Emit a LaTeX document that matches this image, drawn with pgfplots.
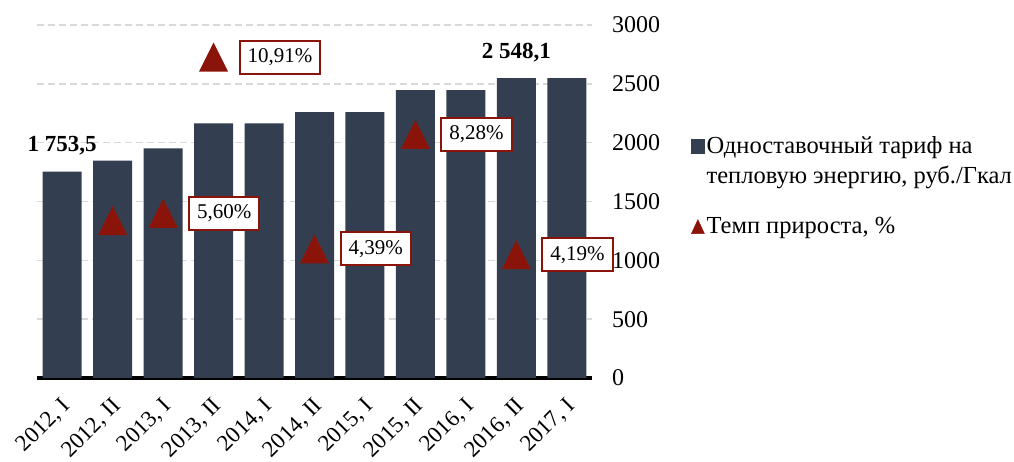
\documentclass[border=0pt]{standalone}
\usepackage{pgfplots}
\pgfplotsset{compat=1.18}
\usepackage{fontspec}
\setmainfont{Liberation Serif}
\definecolor{barcol}{RGB}{51,63,80}
\definecolor{trired}{RGB}{139,20,10}
\definecolor{gridcol}{RGB}{217,217,217}
\pgfdeclareplotmark{tri}{%
  \pgfpathmoveto{\pgfqpoint{0pt}{14.5pt}}%
  \pgfpathlineto{\pgfqpoint{-14.5pt}{-14.5pt}}%
  \pgfpathlineto{\pgfqpoint{14.5pt}{-14.5pt}}%
  \pgfpathclose\pgfusepathqfill}
\begin{document}
\begin{tikzpicture}
\useasboundingbox (0,0) rectangle (1014pt,462pt);
\begin{axis}[
  at={(37pt,84pt)}, anchor=south west,
  scale only axis, width=555pt, height=353pt,
  xmin=-0.5, xmax=10.5, ymin=0, ymax=3000,
  axis x line*=bottom, axis y line*=right,
  y axis line style={draw=none},
  x axis line style={line width=4pt, -},
  xtick={0,...,10},
  xticklabels={{2012, I},{2012, II},{2013, I},{2013, II},{2014, I},{2014, II},{2015, I},{2015, II},{2016, I},{2016, II},{2017, I}},
  xticklabel style={yshift=-15pt, xshift=-2pt, rotate=45, anchor=north east, inner sep=2pt, font=\fontsize{23}{26}\selectfont},
  ytick={0,500,...,3000},
  yticklabel style={font=\fontsize{24}{28}\selectfont, /pgf/number format/assume math mode=true, /pgf/number format/1000 sep={}, anchor=west, inner sep=0pt, xshift=20pt},
  major tick length=0pt,
  ymajorgrids, grid style={gridcol, line width=1.5pt, dash pattern=on 7pt off 4pt},
  clip=false,
]
\addplot[ybar, bar width=39pt, bar shift=0pt, fill=barcol, draw=none]
coordinates {(0,1753.5) (1,1847.3) (2,1950.8) (3,2163.6) (4,2163.6) (5,2258.6) (6,2258.6) (7,2445.6) (8,2445.6) (9,2548.1) (10,2548.1)};
\addplot[draw=none, mark=none, nodes near coords, point meta=explicit symbolic,
  nodes near coords style={font=\bfseries\fontsize{23}{26}\selectfont, anchor=base, yshift=20pt, text=black}]
coordinates {(0,1753.5)[1 753,5] (9,2548.1)[2 548,1]};
\end{axis}
\begin{axis}[
  at={(37pt,84pt)}, anchor=south west,
  scale only axis, width=555pt, height=353pt,
  xmin=-0.5, xmax=10.5, ymin=0, ymax=12,
  hide axis, clip=false,
  legend style={at={(1,1)}, anchor=north west, xshift=99pt, yshift=-109pt, draw=none, fill=none,
    font=\fontsize{24.5}{30}\selectfont, cells={anchor=west, align=left}, inner sep=0pt, row sep=29pt},
]
\addlegendimage{legend image code/.code={\fill[barcol] (0pt,7pt) rectangle (13pt,21pt);}}
\addlegendentry{Одноставочный тариф на\\тепловую энергию, руб./Гкал}
\addplot[only marks, mark=tri, color=trired, forget plot] coordinates {(1,5.35)};
\addplot[only marks, mark=tri, color=trired, nodes near coords, point meta=explicit symbolic,
  nodes near coords style={draw=trired, fill=white, line width=2pt, text=black, anchor=west, xshift=25pt,
    font=\fontsize{21}{24}\selectfont, minimum height=33pt, inner xsep=8pt, inner ysep=0pt},
  legend image code/.code={\fill[trired] (0pt,-7pt) -- (13pt,-7pt) -- (6.5pt,7pt) -- cycle;}]
coordinates {(2,5.60)[5,60\%] (3,10.91)[10,91\%] (5,4.39)[4,39\%] (7,8.28)[8,28\%] (9,4.19)[4,19\%]};
\addlegendentry{Темп прироста, \%}
\end{axis}
\end{tikzpicture}
\end{document}
